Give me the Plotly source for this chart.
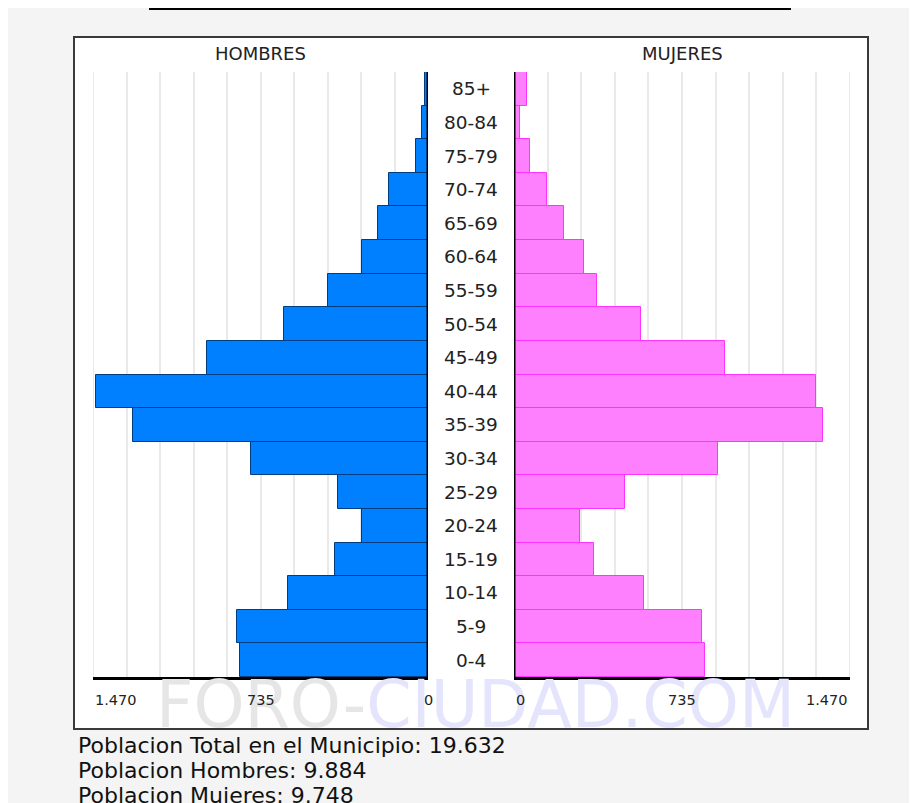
import plotly.graph_objects as go

W, H = 917, 803
OFF = 8  # page body margin in the browser

age_groups = ["0-4", "5-9", "10-14", "15-19", "20-24", "25-29", "30-34", "35-39",
              "40-44", "45-49", "50-54", "55-59", "60-64", "65-69", "70-74", "75-79",
              "80-84", "85+"]
hombres = [824, 838, 616, 408, 290, 394, 778, 1294, 1457, 970, 630, 440, 291, 218, 171, 54, 25, 12]
mujeres = [837, 821, 570, 350, 290, 484, 894, 1351, 1321, 925, 556, 365, 305, 217, 143, 70, 26, 56]
axis_max = 1470
tick_vals = [0, 735, 1470]
tick_text = ["0", "735", "1.470"]
summary_lines = ["Poblacion Total en el Municipio: 19.632",
                 "Poblacion Hombres: 9.884",
                 "Poblacion Mujeres: 9.748"]

FONT = "DejaVu Sans, Verdana, sans-serif"
GRID = "#e9e9e9"


def px(x):
    return (x - OFF) / W


def py(y):
    return 1 - (y - OFF) / H


fig = go.Figure()
fig.add_trace(go.Bar(
    y=age_groups, x=hombres, orientation="h", xaxis="x", yaxis="y",
    marker=dict(color="#0080FF", line=dict(color="#003D80", width=1)),
    hoverinfo="x+y", showlegend=False))
fig.add_trace(go.Bar(
    y=age_groups, x=mujeres, orientation="h", xaxis="x2", yaxis="y",
    marker=dict(color="#FF80FF", line=dict(color="#FF33FF", width=1)),
    hoverinfo="x+y", showlegend=False))

common_x = dict(
    tickmode="array", tickvals=tick_vals, showticklabels=False, ticks="",
    showgrid=True, gridcolor=GRID, gridwidth=2,
    minor=dict(dtick=147, tick0=0, showgrid=True, gridcolor=GRID, gridwidth=2),
    zeroline=False, showline=True, linecolor="black", linewidth=3,
    fixedrange=True,
)
fig.update_layout(
    width=W, height=H,
    margin=dict(l=0, r=0, t=0, b=0),
    paper_bgcolor="#f4f4f4", plot_bgcolor="rgba(0,0,0,0)",
    bargap=0,
    xaxis=dict(domain=[px(93), px(428)], range=[axis_max, 0], anchor="y", **common_x),
    xaxis2=dict(domain=[px(514), px(850)], range=[0, axis_max], anchor="y", **common_x),
    yaxis=dict(domain=[py(677), py(72)], range=[-0.5, len(age_groups) - 0.5],
               type="category", categoryorder="array", categoryarray=age_groups,
               showticklabels=False, showgrid=False, zeroline=False, showline=False,
               anchor="x", fixedrange=True),
    font=dict(family=FONT, color="#333333"),
)

shapes = [
    dict(type="rect", xref="paper", yref="paper", x0=px(74), x1=px(868), y0=py(729), y1=py(37),
         fillcolor="white", line=dict(color="#3a3a3a", width=2), layer="below"),
    dict(type="line", xref="paper", yref="paper", x0=px(149), x1=px(791), y0=py(9), y1=py(9),
         line=dict(color="black", width=2)),
    # outer gridlines at the axis ends
    dict(type="line", xref="x", yref="y domain", x0=axis_max, x1=axis_max, y0=0, y1=1,
         line=dict(color=GRID, width=2), layer="below"),
    dict(type="line", xref="x2", yref="y domain", x0=axis_max, x1=axis_max, y0=0, y1=1,
         line=dict(color=GRID, width=2), layer="below"),
    # zero axes
    dict(type="line", xref="x", yref="y domain", x0=0, x1=0, y0=0, y1=1,
         line=dict(color="black", width=3), layer="above"),
    dict(type="line", xref="x2", yref="y domain", x0=0, x1=0, y0=0, y1=1,
         line=dict(color="black", width=3), layer="above"),
]
fig.update_layout(shapes=shapes)

ann = []
# watermark
ann.append(dict(
    xref="paper", yref="paper", x=px(475), y=py(704), showarrow=False,
    text='<span style="color:#e6e6e6">FORO-</span><span style="color:#e4e4fc">CIUDAD.COM</span>',
    font=dict(family=FONT, size=65),
    xanchor="center", yanchor="middle"))
# panel titles
ann.append(dict(xref="paper", yref="paper", x=px(260.5), y=py(53), text="HOMBRES", showarrow=False,
                font=dict(family=FONT, size=18, color="#222222"), xanchor="center", yanchor="middle"))
ann.append(dict(xref="paper", yref="paper", x=px(682), y=py(53), text="MUJERES", showarrow=False,
                font=dict(family=FONT, size=18, color="#222222"), xanchor="center", yanchor="middle"))
# age labels
for g in age_groups:
    ann.append(dict(xref="paper", yref="y", x=px(471), y=g, text=g, showarrow=False,
                    font=dict(family=FONT, size=18.5, color="#222222"),
                    xanchor="center", yanchor="middle"))
# tick labels
for v, t in zip(tick_vals, tick_text):
    anchor_l = "center" if v != axis_max else "left"
    ann.append(dict(xref="x", yref="paper", x=v, y=py(700), text=t, showarrow=False,
                    font=dict(family=FONT, size=14.5, color="#222222"),
                    xanchor=anchor_l, yanchor="middle"))
    anchor_r = "left" if v == 0 else ("right" if v == axis_max else "center")
    ann.append(dict(xref="x2", yref="paper", x=v, y=py(700), text=t, showarrow=False,
                    font=dict(family=FONT, size=14.5, color="#222222"),
                    xanchor=anchor_r, yanchor="middle"))
# summary
for i, line in enumerate(summary_lines):
    ann.append(dict(xref="paper", yref="paper", x=px(76), y=py(745 + 25 * i), text=line,
                    showarrow=False, font=dict(family=FONT, size=22, color="#111111"),
                    xanchor="left", yanchor="middle"))
fig.update_layout(annotations=ann)

fig.write_html("out.html")
